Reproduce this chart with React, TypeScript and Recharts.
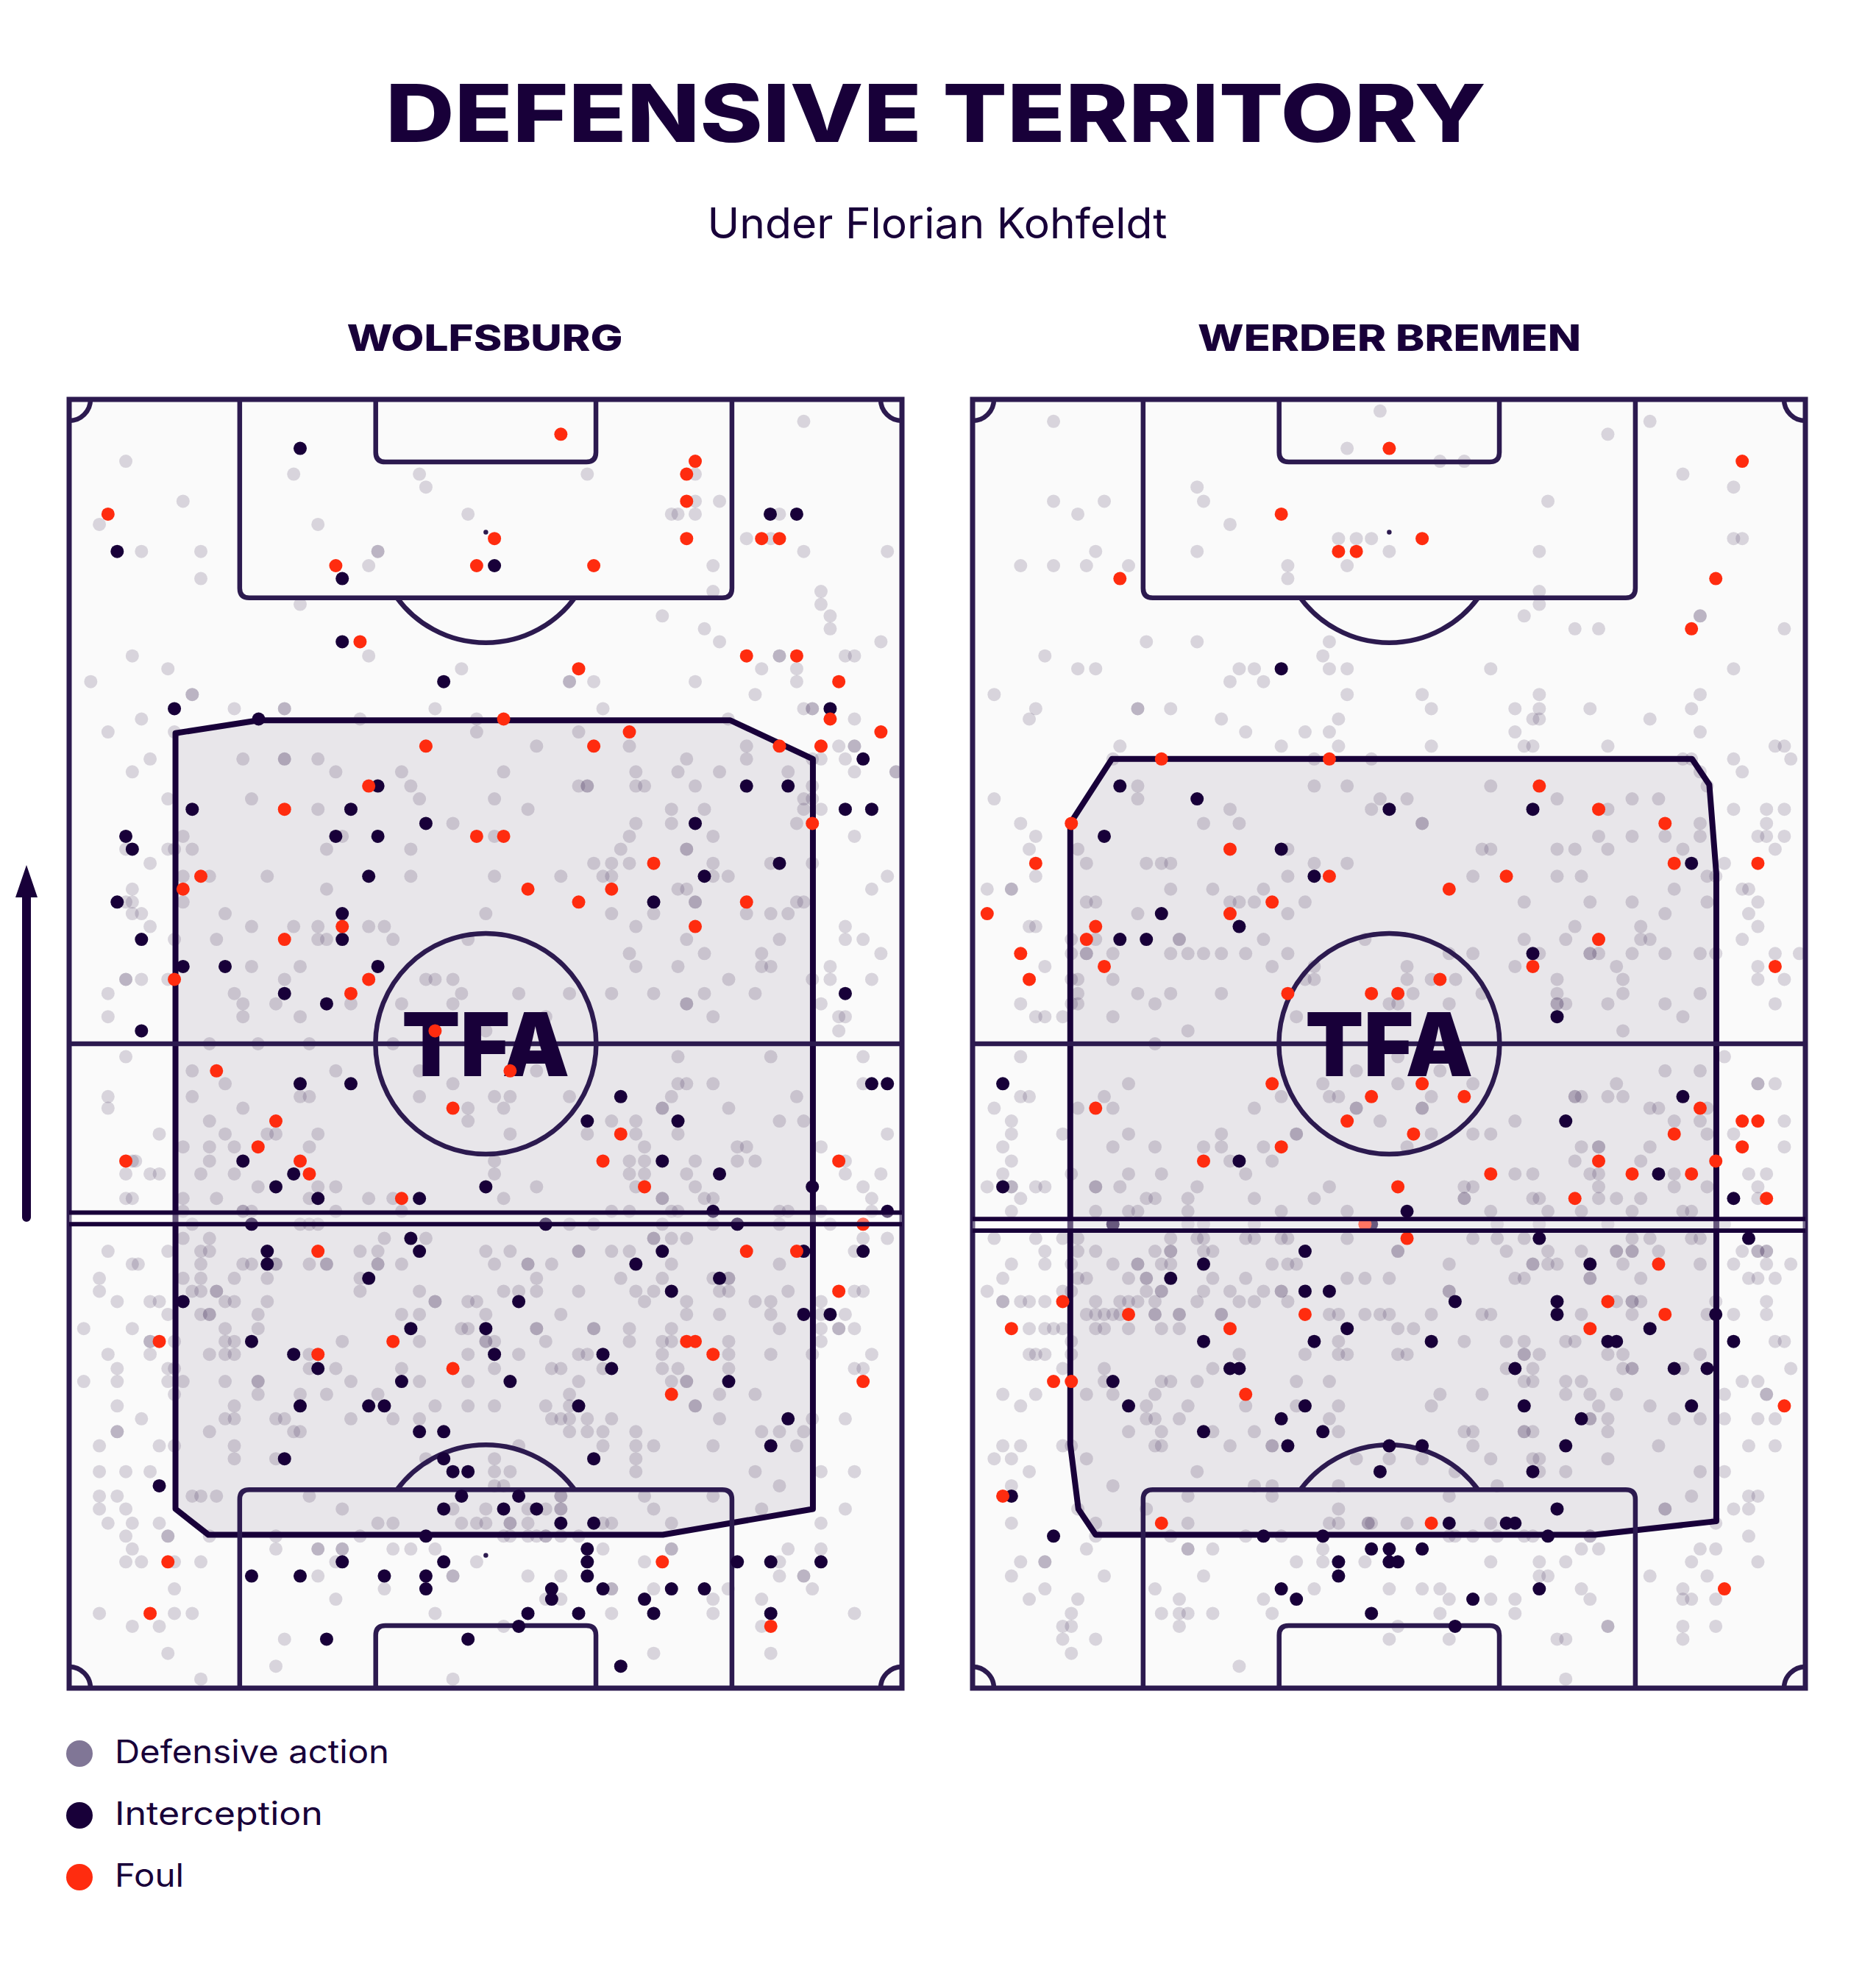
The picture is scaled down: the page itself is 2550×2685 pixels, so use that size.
import React from "react";
import { ComposedChart, Scatter, XAxis, YAxis, ReferenceArea, ReferenceLine, ReferenceDot } from "recharts";

type Row = [number, number[]];

const TITLE = "DEFENSIVE TERRITORY";
const SUBTITLE = "Under Florian Kohfeldt";
const LEGEND_LABELS = ["Defensive action", "Interception", "Foul"];
const LEGEND_WIDTHS = [373, 283, 94];
const LEGEND_COLORS = ["#807696", "#180039", "#FF2C0F"];

// Pitch positions: y = % down the pitch, x = lateral position on a 12–1555 reading scale.
const X_MIN = 12;
const X_MAX = 1555;
const X_MID = 784;

const wolfsburgDefensive: Row[] = [
  [1.7,[1373]],[4.8,[117]],[5.8,[428,661,972,1172]],[6.8,[673]],[7.9,[223,1172,1217]],[8.9,[751,1128,1140,1172,1328]],[9.7,[68,473]],
  [10.8,[1267,1312]],[11.8,[146,256,584,584,1373,1528]],[12.9,[567,1205]],[13.9,[256]],[14.9,[1205,1405]],[15.9,[440,1405]],[16.8,[1111,1422]],
  [17.8,[1189,1422]],[18.8,[1217,1516]],[19.9,[129,567,1328,1328,1450,1467]],[20.9,[195,739,1295,1360]],[21.9,[52,939,939,984,1172,1360]],
  [22.9,[240,240,1283]],[24,[318,411,411,690,1001,1373,1389,1389]],[24.8,[146,551,767,1233,1467]],[25.8,[84,207,767,956]],
  [26.9,[878,1050,1267,1438,1467,1467]],[27.9,[162,334,411,411,473,1156,1267,1389,1405,1450]],[28.9,[129,506,628,817,1062,1140,1217,1344,1467,1544,1544]],
  [30,[645,956,972,972,1062,1078,1172,1389]],[31,[195,350,661,800,1373,1389]],[31.8,[473,862,1128,1189,1373,1405]],[32.9,[723,1062,1128,1360]],
  [33.9,[223,518,800,1050,1205,1467]],[34.9,[117,195,207,240,489,645,1034,1156,1156]],[36,[162,984,1017,1050,1205,1312,1389]],
  [37,[223,272,379,645,800,923,1001,1017,1205,1233,1528]],[38,[129,489,1140,1156,1499]],[39,[117,129,223,1172,1172,1360,1373]],
  [39.9,[129,146,301,784,1017,1095,1267,1312,1344]],[40.9,[162,350,428,473,567,596,1062,1450]],[41.9,[207,285,473,489,612,751,1156,1328,1450,1483]],
  [43,[1050,1189,1295,1516]],[44,[350,440,1062,1140,1295,1312,1422]],[45,[117,117,146,195,411,673,690,723,1234,1389,1422,1499]],
  [46.1,[84,318,739,845,939,1017,1095,1189,1283]],[46.9,[334,395,534,628,723,1156,1156,1405]],[47.9,[84,334,440,895,1205,1438,1450]],
  [49,[784,1438]],[50,[272,362,457,612]],[51,[117,1140,1312,1483]],[52.1,[240,506,661,878]],[53.1,[301,723,1140,1156,1205,1483]],
  [54.1,[84,240,440,457,661,800,829,939,1128,1360]],[55,[84,334,751,817,1111,1111,1234]],[56,[272,751,1017,1062,1328,1373]],
  [57,[179,301,379,395,473,829,972,1062,1140,1528]],[58,[223,272,318,457,1078,1250,1267,1405]],[59.1,[129,135,272,800,1050,1078,1172,1250,1283,1450]],
  [60.1,[117,162,179,256,318,800,1050,1078,1156,1450,1516]],[61.1,[362,473,506,878,1062,1172,1483]],[62,[117,129,223,285,457,567,612,817,1111,1111,1189,1205,1499]],
  [63,[223,334,334,350,506,628,1017,1050,1128,1140,1328,1344,1405,1499]],[64,[240,440,457,473,939,984,1111,1205,1328,1422]],
  [65.1,[223,272,596,673,1095,1095,1128,1156,1483,1528]],[66.1,[84,195,256,272,551,584,784,829,956,956,1017,1050,1467]],
  [67.1,[129,140,256,334,350,395,395,457,489,489,584,584,628,800,862,862,906,1128,1328]],[68.2,[68,223,256,318,379,551,878,1034,1111,1205,1234,1234]],
  [69.2,[68,240,256,285,285,551,661,817,845,878,956,1062,1095,1217,1234,1344,1467,1483]],[70,[101,162,179,301,318,379,690,690,751,767,1078,1156,1283,1312,1405]],
  [71,[195,256,272,272,362,628,661,784,923,1156,1217,1312,1405,1450]],[72.1,[39,129,301,362,739,751,878,878,984,984,1050,1128,1328,1405,1438,1438,1467]],
  [73.1,[162,162,207,301,318,518,661,784,784,800,895,1050,1111,1128,1234,1405]],[74.1,[84,162,272,301,318,457,751,845,956,972,1111,1234,1312,1389,1499]],
  [75.2,[101,195,207,457,506,628,800,906,923,1001,1111,1140,1234,1467,1483]],[76.2,[39,101,195,223,301,362,362,534,661,751,956,1128,1156,1156]],
  [77.2,[207,362,440,489,584,939,1217,1283]],[78.1,[101,318,690,751,800,895,939,1172,1172]],[79.1,[146,301,318,395,411,534,612,661,906,923,939,972,1017,1217,1389,1450]],
  [80.1,[101,101,272,428,440,939,972,1001,1062,1295,1328,1373]],[81.2,[68,179,207,318,845,1001,1062,1095,1205,1360]],[82.2,[318,395,673,800,1062]],
  [83.2,[68,117,162,800,829,1062,1283,1405,1467]],[84.3,[800,817,1328]],[85.1,[68,101,240,256,285,457,923,923,1078,1205]],
  [86.1,[68,117,518,723,784,862,895,923,923,1095,1295,1450]],[87.2,[84,129,179,584,612,739,767,784,829,829,862,1001,1017,1128,1405]],
  [88.2,[117,195,195,272,395,551,817,829,862,878,895,895,923,956]],[89.2,[129,395,473,473,518,518,612,645,690,1001,1128,1128,1344,1405]],
  [90.2,[117,146,207,256,506,767,1078,1328]],[91.3,[473,723,723,862,923,1328,1373,1373]],[92.3,[207,596,1017,1017,1095,1233,1389]],
  [93.1,[506,895,923,1205,1295]],[94.2,[68,207,240,690,1017,1205,1467]],[95.2,[129,179,817,1295]],[96.2,[411]],[97.3,[195,1095,1312]],[98.3,[395]],[99.3,[256,723]],
];

const wolfsburgInterceptions: Row[] = [
  [3.8,[440]],[8.9,[1311,1360]],[11.8,[101]],[12.9,[800]],[13.9,[518]],[18.8,[518]],[21.9,[706]],[24,[207,1422]],[24.8,[363]],[27.9,[1483]],
  [30,[584,1267,1344]],[31.8,[240,534,1450,1499]],[32.9,[673,1172]],[33.9,[117,506,584]],[34.9,[129]],[36,[1328]],[37,[567,1189]],[39,[101,1095]],
  [39.9,[518]],[41.9,[146,518]],[44,[223,301,584]],[46.1,[411,1450]],[46.9,[489]],[49,[146]],[53.1,[440,534,1499,1528]],[54.1,[1034]],[56,[972,1140]],
  [59.1,[334,1111]],[60.1,[428,1217]],[61.1,[395,784,1389]],[62,[473,661]],[63,[1205,1528]],[64,[350,895,1250]],[65.1,[645]],[66.1,[379,661,1111,1373,1483]],
  [67.1,[379,1062]],[68.2,[567,1217]],[69.2,[1128]],[70,[223,845]],[71,[1373,1422]],[72.1,[645,784]],[73.1,[350]],[74.1,[428,800,1001]],[75.2,[473,1017]],
  [76.2,[628,829,1234]],[78.1,[440,567,596,956]],[79.1,[1344]],[80.1,[661,706]],[81.2,[1312]],[82.2,[411,706,984]],[83.2,[723,751]],[84.3,[179]],
  [85.1,[739,845]],[86.1,[706,817,878]],[87.2,[923,984]],[88.2,[673]],[89.2,[972]],[90.2,[518,706,972,1250,1312,1405]],[91.3,[350,440,596,673,972]],
  [92.3,[673,906,1001,1128,1189]],[93.1,[906,1078]],[94.2,[862,956,1095,1312]],[95.2,[845]],[96.2,[489,751]],[98.3,[1034]],
];

const wolfsburgFouls: Row[] = [
  [2.7,[923]],[4.8,[1172]],[5.8,[1156]],[7.9,[1156]],[8.9,[84]],[10.8,[800,1156,1295,1328]],[12.9,[506,767,984]],[18.8,[551]],[19.9,[1267,1360]],
  [20.9,[956]],[21.9,[1438]],[24.8,[817,1422]],[25.8,[1050,1516]],[26.9,[673,984,1328,1405]],[30,[567]],[31.8,[411]],[32.9,[1389]],[33.9,[767,817]],
  [36,[1095]],[37,[256]],[38,[223,862,1017]],[39,[956,1267]],[40.9,[518,1172]],[41.9,[411]],[45,[207,567]],[46.1,[534]],[49,[690]],[52.1,[285,829]],
  [55,[723]],[56,[395]],[57,[1034]],[58,[362]],[59.1,[117,440,1001,1438]],[60.1,[457]],[61.1,[1078]],[62,[628]],[64,[1483]],[66.1,[473,1267,1360]],
  [69.2,[1438]],[73.1,[179,612,1156,1172]],[74.1,[473,1205]],[75.2,[723]],[76.2,[1483]],[77.2,[1128]],[90.2,[195,1111]],[94.2,[162]],[95.2,[1312]],
];

const bremenDefensive: Row[] = [
  [0.9,[767]],[1.7,[162,1267]],[2.7,[1189]],[3.8,[706]],[4.8,[878,923]],[5.8,[1328]],[6.8,[428,1422]],[7.9,[162,256,440,1078]],[8.9,[207]],[9.7,[489]],
  [10.8,[690,723,751,1422,1438]],[11.8,[240,428,784,1062]],[12.9,[101,162,223,301,596,706]],[13.9,[596]],[14.9,[1062]],[15.9,[1062]],[16.8,[1034,1360,1360]],
  [17.8,[1128,1172,1516]],[18.8,[334,428,673]],[19.9,[146,661]],[20.9,[207,240,506,534,673,706,972,1422]],[21.9,[489,551]],[22.9,[52,706,845,1062,1360]],
  [24,[129,318,318,379,862,1017,1062,1156,1344]],[24.8,[117,473,690,1050,1062,1267]],[25.8,[518,628,673,1017,1360]],[26.9,[285,584,690,862,1034,1050,1189,1499,1516]],
  [27.9,[272,645,751,1328,1344,1422,1528]],[28.9,[1360,1438]],[30,[318,645,706,972,1373]],[31,[52,318,767,817,1095,1234,1283]],[31.8,[489,751,1189,1422,1483,1516]],
  [32.9,[101,440,506,845,845,1360,1483]],[33.9,[129,1172,1234,1295,1360,1467,1483,1516]],[34.9,[117,207,596,956,972,1095,1128,1189,1328,1499]],
  [36,[223,334,362,379,645,706,1405]],[37,[129,596,939,1095,1140,1373,1389]],[38,[39,84,84,379,457,551,1312,1438,1450]],[39,[223,240,489,506,534,628,1034,1156,1234,1373,1467]],
  [39.9,[318,596,1295,1450]],[40.9,[117,129,1128,1250,1467]],[41.9,[195,240,395,395,551,739,1034,1111,1250,1267,1438]],
  [43,[195,223,223,272,379,411,440,473,518,596,895,939,1062,1156,1156,1172,1234,1295,1360,1389,1499,1544]],[44,[146,567,645,817,1017,1205,1467]],
  [45,[195,207,272,628,645,817,862,907,1095,1217,1467,1516]],[46.1,[207,318,379,473,828,956,1095,1217,1360]],[46.9,[101,195,207,350,784,800,895,1095,1095,1111,1189,1295,1499]],
  [47.9,[129,146,179,272,612,1328]],[49,[411,1217]],[50,[350]],[51,[101,800,1405]],[52.1,[723,878,1295,1360]],[53.1,[301,661,800,939,1205,1467,1467,1499]],
  [54.1,[101,117,256,584,673,690,862,1128,1128,1140,1189,1217]],[55,[52,207,272,534,723,723,845,845,1267,1283,1373]],[56,[84,767,1017,1312,1360,1516]],
  [57,[84,179,301,473,612,612,862,939,972,1373,1422]],[58,[68,272,350,440,473,551,817,1140,1172,1172,1267,1516]],[59.1,[84,489,567,1128,1250]],
  [60.1,[68,195,301,362,518,1017,1050,1156,1172,1312,1450,1483]],[61.1,[39,84,84,129,146,240,240,285,428,673,923,939,1172,1312,1373,1467]],
  [62,[101,334,350,411,534,645,923,923,1050,1062,1172,1205,1250,1467]],[63,[84,240,301,318,411,584,706,972,1078,1140,1234,1328,1344]],
  [64,[411,440,534,984,1062,1189,1405]],[65.1,[52,129,179,207,379,428,440,518,534,584,596,706,939,984,1034,1234,1267,1344,1360]],
  [66.1,[146,207,240,350,379,379,440,457,800,800,1001,1078,1140,1205,1205,1234,1234,1283,1438,1467,1467,1483,1483]],
  [67.1,[84,146,195,272,318,318,362,379,567,596,612,895,1050,1050,1078,1095,1217,1360,1422,1483,1528]],
  [68.2,[68,207,223,301,334,334,457,518,706,739,784,1017,1034,1156,1156,1250,1450,1467,1499]],[69.2,[39,179,195,334,362,362,440,489,551,584,584,895,895]],
  [70,[68,68,101,117,146,240,285,301,318,350,428,506,534,596,1205,1234,1234,1250,1389,1483]],
  [71,[223,240,256,272,285,350,350,395,395,473,473,673,690,739,767,784,862,956,972,1140,1234,1373,1422,1483]],[72.1,[117,146,162,179,240,256,301,362,395,800,829]],
  [73.1,[195,690,923,1001,1034,1111,1128,1499,1516]],[74.1,[117,129,146,195,506,628,690,706,800,817,1034,1034,1062,1189,1217,1360]],
  [75.2,[179,256,457,1001,1050,1217,1234,1234,1328,1528]],[76.2,[256,362,379,428,612,673,1034,1050,1111,1140,1438,1467]],
  [77.2,[68,129,223,272,350,878,956,1111,1156,1205,1405,1483,1483]],[78.1,[101,334,411,518,612,690,862,1172,1267]],
  [79.1,[334,350,395,673,1156,1156,1189,1312,1360,1405,1467,1499]],[80.1,[301,362,457,534,690,923,939,1034,1034,1050,1189]],
  [81.2,[68,101,179,195,350,362,489,567,567,939,1283,1450,1499]],[82.2,[52,84,223,723,784,845,972,1050,1062,1189]],[83.2,[117,428,906,1062,1111,1360,1405]],
  [84.3,[84,272,534,567,690,984]],[85.1,[411,567,895,1344,1450,1467]],[86.1,[207,334,690,1295,1295,1422,1450]],[87.2,[84,240,411,673,690,745,745,751,817,972,1389]],
  [88.2,[240,379,518,584,895,906,939,984,1034,1050,1156,1156,1450]],[89.2,[223,411,411,457,661,1140,1172,1360,1389]],[90.2,[101,146,146,612,661,739,972,1062,1111,1344,1467]],
  [91.3,[84,256,440,1062,1078,1267,1373]],[92.3,[146,350,645,784,845,878,1140,1328]],[93.1,[117,207,395,551,895,972,1017,1156,1328,1344,1389]],
  [94.2,[195,362,395,411,457,567,878,1017]],[95.2,[179,195,395,800,1189,1189,1328,1389]],[96.2,[179,240,784,895,1095,1111,1328]],[97.3,[195]],[98.3,[506]],[99.3,[1111]],
];

const bremenInterceptions: Row[] = [
  [20.9,[584]],[30,[285]],[31,[428]],[31.8,[784,1050]],[33.9,[256]],[34.9,[584]],[36,[1344]],[37,[645]],[39.9,[362]],[40.9,[506]],[41.9,[285,334]],[43,[1050]],
  [47.9,[1095]],[53.1,[68]],[54.1,[1328]],[56,[1111]],[59.1,[506]],[60.1,[1283]],[61.1,[68]],[62,[1422]],[63,[817]],[64,[272,751]],[65.1,[1062,1450]],[66.1,[628]],
  [67.1,[440,1156]],[68.2,[379]],[69.2,[628,673]],[70,[906,1095]],[71,[1095,1389]],[72.1,[706,1267]],[73.1,[440,645,862,1189,1205,1422]],[75.2,[489,506,1017,1312,1373]],
  [76.2,[272]],[78.1,[301,628,1034,1344]],[79.1,[584,1140]],[80.1,[440,661]],[81.2,[596,784,845,1111]],[83.2,[767,1050]],[85.1,[84]],[86.1,[1095]],[87.2,[895,1001,1017]],
  [88.2,[162,551,661,1078]],[89.2,[751,784,845]],[90.2,[690,784,800]],[91.3,[690]],[92.3,[584,1062]],[93.1,[612,939]],[94.2,[751]],[95.2,[906]],
];

const bremenFouls: Row[] = [
  [3.8,[784]],[4.8,[1438]],[8.9,[584]],[10.8,[845]],[11.8,[690,723]],[13.9,[285,1389]],[17.8,[1344]],[27.9,[362,673]],[30,[1062]],[31.8,[1172]],[32.9,[195,1295]],
  [34.9,[489]],[36,[129,1312,1467]],[37,[673,1001]],[38,[895]],[39,[567]],[39.9,[39,489]],[40.9,[240]],[41.9,[223,1172]],[43,[101]],[44,[256,1050,1499]],[45,[117,878]],
  [46.1,[596,751,800]],[53.1,[567,845]],[54.1,[751,923]],[55,[240,1360]],[56,[706,1438,1467]],[57,[829,1312]],[58,[584,1438]],[59.1,[440,1172,1389]],[60.1,[972,1234,1344]],
  [61.1,[800]],[62,[1128,1483]],[64,[739]],[65.1,[817]],[67.1,[1283]],[70,[179,1189]],[71,[301,628,1295]],[72.1,[84,489,1156]],[76.2,[162,195]],[77.2,[518]],[78.1,[1516]],
  [85.1,[68]],[87.2,[362,862]],[92.3,[1405]],
];

const wolfsburgHull = [[209,25.9],[363,24.9],[1237,24.9],[1390,27.9],[1390,86.1],[1112,88.1],[270,88.1],[209,86.1]];
const bremenHull = [[270,27.9],[1345,27.9],[1377,29.9],[1390,36.8],[1390,87.05],[1165,88.1],[240,88.1],[208,86.1],[193,81.1],[193,32.9]];

const wolfsburgRange = [63.1, 64];
const bremenRange = [63.6, 64.5];

const flat = (rows: Row[]) => rows.flatMap(([y, xs]) => xs.map((x) => ({ x, y })));
const pts = (rows: number[][]) => rows.map(([x, y]) => ({ x, y }));

const DARK = "#180039";
const LINE = "#2C1A4F";
const RED = "#FF2C0F";
const FONT = "Inter, 'Liberation Sans', sans-serif";

const PITCH_W = 1132;
const PITCH_H = 1752;
const M = 24;
const LW = 6.5;

const dot = (fill: string, opacity = 1) => (p: any) => <circle cx={p.cx} cy={p.cy} r={9} fill={fill} fillOpacity={opacity} />;
const noShape = () => <g />;

const boxShape = (top: boolean) => (p: any) => {
  const { x, y, width: w, height: h } = p;
  const r = 13;
  const d = top
    ? `M${x},${y} L${x},${y + h - r} Q${x},${y + h} ${x + r},${y + h} L${x + w - r},${y + h} Q${x + w},${y + h} ${x + w},${y + h - r} L${x + w},${y}`
    : `M${x},${y + h} L${x},${y + r} Q${x},${y} ${x + r},${y} L${x + w - r},${y} Q${x + w},${y} ${x + w},${y + r} L${x + w},${y + h}`;
  return <path d={d} fill="none" stroke={LINE} strokeWidth={LW} />;
};

const arcShape = (dx1: number, dy1: number, dx2: number, dy2: number, r: number, sweep: number) => (p: any) => (
  <path d={`M${p.cx + dx1},${p.cy + dy1} A${r},${r} 0 0 ${sweep} ${p.cx + dx2},${p.cy + dy2}`} fill="none" stroke={LINE} strokeWidth={LW} />
);

const logoShape = (p: any) => (
  <text x={p.cx} y={p.cy} textAnchor="middle" fontFamily={FONT} fontWeight={900} fontSize={120} fill={DARK} textLength={228} lengthAdjust="spacingAndGlyphs">TFA</text>
);

const hullLine = (p: any) => {
  const d = (p.points || []).map((q: any, i: number) => `${i ? "L" : "M"}${q.x},${q.y}`).join(" ") + " Z";
  return <path d={d} fill={DARK} fillOpacity={0.08} stroke={DARK} strokeWidth={8} strokeLinejoin="round" />;
};

function Pitch({ left, def, inter, fouls, hull, range }: any) {
  return (
    <div style={{ position: "absolute", left: left - M, top: 543 - M }}>
      <ComposedChart width={PITCH_W + 2 * M} height={PITCH_H + 2 * M} margin={{ top: M, right: M, bottom: M, left: M }} data={[]}>
        <XAxis hide type="number" dataKey="x" domain={[X_MIN, X_MAX]} allowDataOverflow />
        <YAxis hide type="number" dataKey="y" domain={[0, 100]} reversed allowDataOverflow />
        <ReferenceArea x1={X_MIN} x2={X_MAX} y1={0} y2={100} fill="#FAFAFA" fillOpacity={1} stroke="none" zIndex={10} />
        <Scatter data={flat(def)} shape={dot(DARK, 0.15)} isAnimationActive={false} zIndex={20} />
        <Scatter data={pts(hull)} shape={noShape} line={hullLine} isAnimationActive={false} zIndex={30} />
        <ReferenceArea x1={X_MIN} x2={X_MAX} y1={0} y2={100} fill="none" stroke={LINE} strokeWidth={7} zIndex={40} />
        <ReferenceLine y={50} stroke={LINE} strokeWidth={LW} zIndex={41} />
        <ReferenceArea x1={328} x2={1240} y1={0} y2={15.4} shape={boxShape(true)} zIndex={42} />
        <ReferenceArea x1={580} x2={988} y1={0} y2={4.85} shape={boxShape(true)} zIndex={42} />
        <ReferenceArea x1={328} x2={1240} y1={84.6} y2={100} shape={boxShape(false)} zIndex={42} />
        <ReferenceArea x1={580} x2={988} y1={95.15} y2={100} shape={boxShape(false)} zIndex={42} />
        <ReferenceDot x={X_MID} y={50} r={150} fill="none" stroke={LINE} strokeWidth={LW} zIndex={43} />
        <ReferenceDot x={X_MID} y={10.3} r={3.2} fill={LINE} stroke="none" zIndex={43} />
        <ReferenceDot x={X_MID} y={89.7} r={3.2} fill={LINE} stroke="none" zIndex={43} />
        <ReferenceDot x={X_MID} y={10.3} shape={arcShape(-121, 89, 121, 89, 150, 0)} zIndex={43} />
        <ReferenceDot x={X_MID} y={89.7} shape={arcShape(-121, -89, 121, -89, 150, 1)} zIndex={43} />
        <ReferenceDot x={X_MIN} y={0} shape={arcShape(29, 0, 0, 29, 29, 1)} zIndex={43} />
        <ReferenceDot x={X_MAX} y={0} shape={arcShape(-29, 0, 0, 29, 29, 0)} zIndex={43} />
        <ReferenceDot x={X_MIN} y={100} shape={arcShape(29, 0, 0, -29, 29, 0)} zIndex={43} />
        <ReferenceDot x={X_MAX} y={100} shape={arcShape(-29, 0, 0, -29, 29, 1)} zIndex={43} />
        <ReferenceDot x={X_MID} y={52.5} shape={logoShape} zIndex={44} />
        <Scatter data={flat(inter)} shape={dot(DARK)} isAnimationActive={false} zIndex={50} />
        <Scatter data={flat(fouls)} shape={dot(RED)} isAnimationActive={false} zIndex={51} />
        <ReferenceArea x1={X_MIN} x2={X_MAX} y1={range[0]} y2={range[1]} fill="#FFFFFF" fillOpacity={0.35} stroke="none" zIndex={60} />
        <ReferenceLine y={range[0]} stroke={DARK} strokeWidth={6} zIndex={61} />
        <ReferenceLine y={range[1]} stroke={DARK} strokeWidth={6} zIndex={61} />
      </ComposedChart>
    </div>
  );
}

export default function App() {
  return (
    <div style={{ position: "absolute", left: 0, top: 0, width: 2550, height: 2685, background: "#FFFFFF", overflow: "hidden" }}>
      <svg width={2550} height={2685} style={{ position: "absolute", left: 0, top: 0 }}>
        <text x={1272} y={193} textAnchor="middle" fontFamily={FONT} fontWeight={800} fontSize={108} fill={DARK} textLength={1496} lengthAdjust="spacingAndGlyphs">{TITLE}</text>
        <text x={1274} y={324} textAnchor="middle" fontFamily={FONT} fontWeight={400} fontSize={57} fill={DARK} textLength={625} lengthAdjust="spacingAndGlyphs">{SUBTITLE}</text>
        <text x={659} y={477} textAnchor="middle" fontFamily={FONT} fontWeight={800} fontSize={49} fill={DARK} textLength={375} lengthAdjust="spacingAndGlyphs">WOLFSBURG</text>
        <text x={1888.5} y={477} textAnchor="middle" fontFamily={FONT} fontWeight={800} fontSize={49} fill={DARK} textLength={521} lengthAdjust="spacingAndGlyphs">WERDER BREMEN</text>
        <path d="M36,1176 L51,1220 L42,1220 L42,1655 A6,6 0 0 1 30,1655 L30,1220 L21,1220 Z" fill={DARK} />
        {LEGEND_LABELS.map((label, i) => (
          <g key={label}>
            <circle cx={108} cy={2384 + i * 84} r={18} fill={LEGEND_COLORS[i]} />
            <text x={156} y={2397 + i * 84} fontFamily={FONT} fontWeight={400} fontSize={44} fill={DARK} textLength={LEGEND_WIDTHS[i]} lengthAdjust="spacingAndGlyphs">{label}</text>
          </g>
        ))}
      </svg>
      <Pitch left={93.8} def={wolfsburgDefensive} inter={wolfsburgInterceptions} fouls={wolfsburgFouls} hull={wolfsburgHull} range={wolfsburgRange} />
      <Pitch left={1322.3} def={bremenDefensive} inter={bremenInterceptions} fouls={bremenFouls} hull={bremenHull} range={bremenRange} />
    </div>
  );
}
